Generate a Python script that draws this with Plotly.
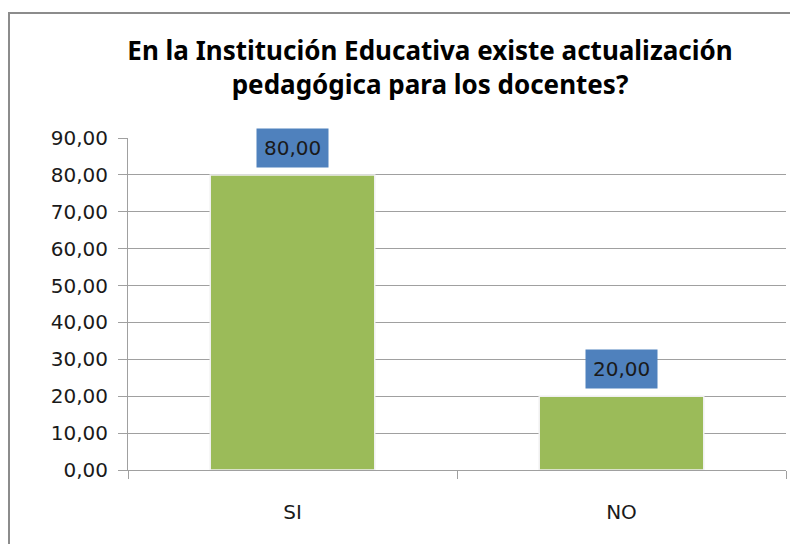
import plotly.graph_objects as go

categories = ["SI", "NO"]
values = [80.00, 20.00]
tick_vals = [0, 10, 20, 30, 40, 50, 60, 70, 80, 90]
tick_text = ["0,00", "10,00", "20,00", "30,00", "40,00", "50,00", "60,00", "70,00", "80,00", "90,00"]
label_text = ["80,00", "20,00"]
title_text = "<b>En la Institución Educativa existe actualización<br>pedagógica para los docentes?</b>"

# page has an 8px body margin, so figure coords = reference coords - 8
W, H = 790, 536
L, R, T, B = 120, 12, 130, 74
pw, ph = W - L - R, H - T - B

fig = go.Figure()
fig.add_trace(go.Bar(
    x=categories, y=values,
    marker=dict(color="#9BBB59", line=dict(color="#f0f0f0", width=1.5)),
    width=0.5,
))

for c, v, t in zip(categories, values, label_text):
    fig.add_annotation(
        x=c, y=v, text=t, showarrow=False, yshift=27,
        bgcolor="#4F81BD", borderpad=7,
        font=dict(family="DejaVu Sans", size=20, color="#1a1a1a"),
    )

fig.add_shape(
    type="rect", xref="paper", yref="paper",
    x0=(1 - L) / pw, x1=(810 - L) / pw,
    y0=-0.3, y1=(H - 5 - B) / ph,
    line=dict(color="#8c8c8c", width=2), fillcolor="rgba(0,0,0,0)",
    layer="below",
)

fig.update_layout(
    width=W, height=H,
    margin=dict(l=L, r=R, t=T, b=B),
    paper_bgcolor="white", plot_bgcolor="white",
    showlegend=False,
    title=dict(
        text=title_text, xref="container", yref="container",
        x=422 / W, xanchor="center", y=1 - 52 / H, yanchor="middle",
        font=dict(family="Noto Sans", size=26, color="#000000"),
    ),
    xaxis=dict(
        showline=True, linecolor="#a0a0a0", linewidth=1,
        ticks="outside", tickson="boundaries", ticklen=8, tickcolor="#a0a0a0",
        tickfont=dict(family="DejaVu Sans", size=20, color="#1a1a1a"),
        ticklabelstandoff=24,
        showgrid=False,
    ),
    yaxis=dict(
        range=[0, 90], tickvals=tick_vals, ticktext=tick_text,
        showline=True, linecolor="#a0a0a0", linewidth=1,
        ticks="outside", ticklen=9, tickcolor="#a0a0a0",
        ticklabelstandoff=6,
        showgrid=True, gridcolor="#a0a0a0", gridwidth=1,
        tickfont=dict(family="DejaVu Sans", size=20, color="#1a1a1a"),
        zeroline=False,
    ),
    bargap=0.5,
)

fig.write_html("out.html")
